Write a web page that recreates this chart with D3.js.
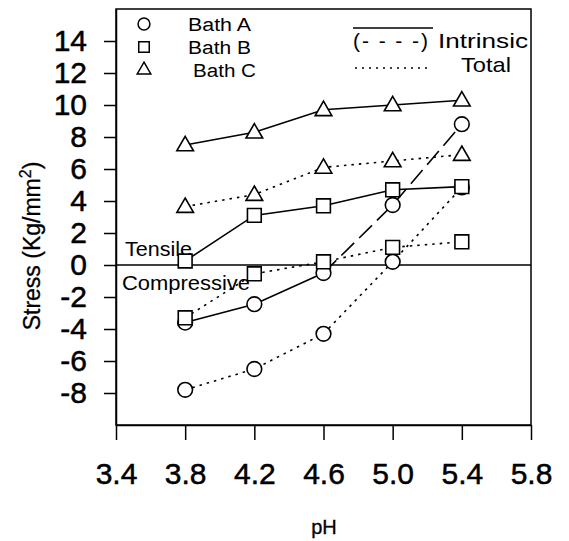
<!DOCTYPE html>
<html>
<head>
<meta charset="utf-8">
<script src="https://cdn.jsdelivr.net/npm/d3@7"></script>
<style>
  body { margin: 0; background: #fff; }
  text { font-family: "Liberation Sans", Arial, sans-serif; fill: #000; }
  .heavy text, text.heavy { stroke: #000; stroke-width: 0.5px; }
</style>
</head>
<body>
<svg id="chart" width="569" height="541"></svg>
<script>
// pH values and stress readings (Kg/mm2)
var ph = [3.8, 4.2, 4.6, 5.0, 5.4];
var bathAIntrinsic = [-3.6, -2.45, -0.5, 3.75, 8.8];
var bathATotal = [-7.8, -6.5, -4.3, 0.2, 4.85];
var bathBIntrinsic = [0.25, 3.1, 3.7, 4.7, 4.9];
var bathBTotal = [-3.3, -0.55, 0.2, 1.1, 1.45];
var bathCIntrinsic = [7.5, 8.3, 9.7, 10.0, 10.3];
var bathCTotal = [3.65, 4.4, 6.1, 6.5, 6.9];

var xTicks = [3.4, 3.8, 4.2, 4.6, 5.0, 5.4, 5.8];
var yTicks = [-8, -6, -4, -2, 0, 2, 4, 6, 8, 10, 12, 14];
var bathNames = ["Bath A", "Bath B", "Bath C"];

var svg = d3.select("#chart");

var x = d3.scaleLinear().domain([3.4, 5.8]).range([116, 531]);
var y = d3.scaleLinear().domain([-10, 16]).range([425, 9]);

var symbolFor = {
    "Bath A": d3.symbolCircle,
    "Bath B": d3.symbolSquare,
    "Bath C": d3.symbolTriangle
};

function rows(vals) {
    return vals.map(function(v, i) { return {ph: ph[i], v: v}; });
}

// line pieces: [bath, rows, dash]
var pieces = [
    ["Bath A", rows(bathAIntrinsic).slice(0, 3), null],
    ["Bath A", rows(bathAIntrinsic).slice(2), "18,7"],
    ["Bath A", rows(bathATotal), "2.5,5"],
    ["Bath B", rows(bathBIntrinsic), null],
    ["Bath B", rows(bathBTotal), "2.5,5"],
    ["Bath C", rows(bathCIntrinsic), null],
    ["Bath C", rows(bathCTotal), "2.5,5"]
];

var points = [
    ["Bath A", rows(bathAIntrinsic)],
    ["Bath A", rows(bathATotal)],
    ["Bath B", rows(bathBIntrinsic)],
    ["Bath B", rows(bathBTotal)],
    ["Bath C", rows(bathCIntrinsic)],
    ["Bath C", rows(bathCTotal)]
];

// box
svg.append("rect")
    .attr("x", x(3.4)).attr("y", y(16))
    .attr("width", x(5.8) - x(3.4)).attr("height", y(-10) - y(16))
    .attr("fill", "none").attr("stroke", "#000").attr("stroke-width", 1.5);

// zero line
svg.append("line")
    .attr("x1", x(3.4)).attr("x2", x(5.8))
    .attr("y1", y(0)).attr("y2", y(0))
    .attr("stroke", "#000").attr("stroke-width", 1.5);

// axes (plain hyphen for negatives, like the original)
var yAxis = svg.append("g").attr("class", "heavy")
    .attr("transform", "translate(" + x(3.4) + ",0)")
    .call(d3.axisLeft(y).tickValues(yTicks).tickFormat(function(d) { return String(d); })
        .tickSize(12).tickSizeOuter(0).tickPadding(17));
yAxis.selectAll("text").style("font-size", "30px");

var xAxis = svg.append("g").attr("class", "heavy")
    .attr("transform", "translate(0," + y(-10) + ")")
    .call(d3.axisBottom(x).tickValues(xTicks).tickFormat(d3.format(".1f"))
        .tickSize(15).tickSizeOuter(0).tickPadding(23));
xAxis.selectAll("text").style("font-size", "30px");

svg.selectAll(".domain, .tick line").attr("stroke", "#000").attr("stroke-width", 1.5);

// labels
svg.append("text")
    .attr("class", "heavy")
    .attr("transform", "translate(40,246) rotate(-90)")
    .attr("text-anchor", "middle")
    .style("font-size", "23px")
    .style("stroke-width", "0.3px")
    .html('Stress (Kg/mm<tspan dy="-9" font-size="16px">2</tspan><tspan dy="9">)</tspan>');

svg.append("text")
    .attr("class", "heavy")
    .attr("x", 324).attr("y", 534)
    .attr("text-anchor", "middle")
    .style("font-size", "20px")
    .style("stroke-width", "0.3px")
    .text("pH");

svg.append("text")
    .attr("x", 125).attr("y", 256)
    .attr("textLength", 67).attr("lengthAdjust", "spacingAndGlyphs")
    .style("font-size", "21px")
    .text("Tensile");

svg.append("text")
    .attr("x", 122).attr("y", 290)
    .attr("textLength", 128).attr("lengthAdjust", "spacingAndGlyphs")
    .style("font-size", "21px")
    .text("Compressive");

// lines
var line = d3.line()
    .x(function(d) { return x(d.ph); })
    .y(function(d) { return y(d.v); });

svg.append("g").selectAll("path")
    .data(pieces).enter()
    .append("path")
        .attr("d", function(d) { return line(d[1]); })
        .attr("fill", "none")
        .attr("stroke", "#000")
        .attr("stroke-width", 1.6)
        .attr("stroke-dasharray", function(d) { return d[2]; });

// markers
var sizeFor = {"Bath A": 170, "Bath B": 190, "Bath C": 120};

points.forEach(function(p) {
    svg.append("g").selectAll("path")
        .data(p[1]).enter()
        .append("path")
            .attr("transform", function(d) {
                var dy = p[0] === "Bath C" ? 1 : 0;
                return "translate(" + x(d.ph) + "," + (y(d.v) + dy) + ")";
            })
            .attr("d", d3.symbol().type(symbolFor[p[0]]).size(sizeFor[p[0]]))
            .attr("fill", "#fff")
            .attr("stroke", "#000")
            .attr("stroke-width", 1.6);
});

// left legend
var legend = svg.append("g");
legend.selectAll("path")
    .data(bathNames).enter()
    .append("path")
        .attr("transform", function(d, i) { return "translate(144," + (24 + i * 23) + ")"; })
        .attr("d", function(d) { return d3.symbol().type(symbolFor[d]).size(d === "Bath C" ? 80 : 110)(); })
        .attr("fill", "#fff")
        .attr("stroke", "#000")
        .attr("stroke-width", 1.5);

legend.selectAll("text")
    .data(bathNames).enter()
    .append("text")
        .attr("x", function(d, i) { return i === 2 ? 193 : 188; })
        .attr("y", function(d, i) { return 31 + i * 23; })
        .attr("textLength", 63).attr("lengthAdjust", "spacingAndGlyphs")
        .style("font-size", "18px")
        .text(function(d) { return d; });

// right legend
svg.append("line")
    .attr("x1", 353).attr("x2", 433).attr("y1", 28).attr("y2", 28)
    .attr("stroke", "#000").attr("stroke-width", 1.6);

svg.append("text")
    .attr("x", 353).attr("y", 48)
    .attr("textLength", 75).attr("lengthAdjust", "spacing")
    .style("font-size", "21px")
    .text("(- - - -)");

svg.append("text")
    .attr("x", 438).attr("y", 48)
    .attr("textLength", 90).attr("lengthAdjust", "spacingAndGlyphs")
    .style("font-size", "21px")
    .text("Intrinsic");

svg.append("line")
    .attr("x1", 355).attr("x2", 432).attr("y1", 68).attr("y2", 68)
    .attr("stroke", "#000").attr("stroke-width", 1.6)
    .attr("stroke-dasharray", "2,5");

svg.append("text")
    .attr("x", 461).attr("y", 72)
    .attr("textLength", 50).attr("lengthAdjust", "spacingAndGlyphs")
    .style("font-size", "21px")
    .text("Total");
</script>
</body>
</html>
